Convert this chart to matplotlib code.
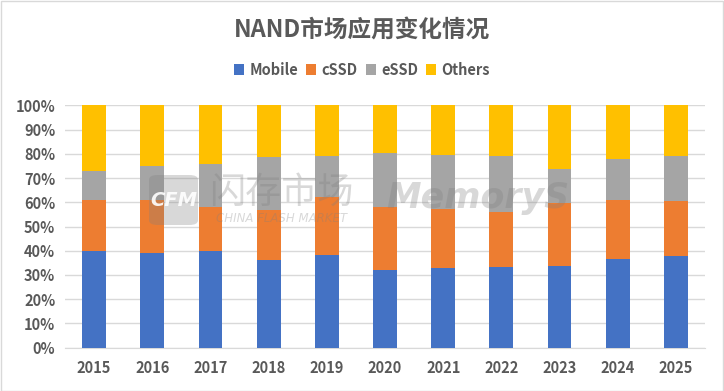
import matplotlib
matplotlib.use("Agg")
import matplotlib.pyplot as plt
import numpy as np
from matplotlib.patches import Rectangle, FancyBboxPatch

plt.rcParams['font.family'] = ['Noto Sans CJK SC', 'DejaVu Sans']

years = ["2015", "2016", "2017", "2018", "2019", "2020", "2021", "2022", "2023", "2024", "2025"]
mobile = [39.8, 39.1, 39.8, 36.2, 38.2, 32.0, 32.9, 33.3, 33.8, 36.6, 38.0]
cssd = [21.1, 21.8, 18.2, 20.7, 24.0, 26.0, 24.3, 22.8, 25.9, 24.5, 22.5]
essd = [12.0, 14.1, 17.8, 21.8, 17.0, 22.3, 22.3, 23.0, 14.0, 16.8, 18.6]
others = [27.1, 25.0, 24.2, 21.3, 20.8, 19.7, 20.5, 20.9, 26.3, 22.1, 20.9]
series_names = ["Mobile", "cSSD", "eSSD", "Others"]
colors = ["#4472C4", "#ED7D31", "#A5A5A5", "#FFC000"]
yticks = [0, 10, 20, 30, 40, 50, 60, 70, 80, 90, 100]
title = "NAND市场应用变化情况"

fig = plt.figure(figsize=(7.24, 3.91), dpi=100)
fig.patch.set_facecolor("white")
fig.add_artist(Rectangle((0.5/724, 0.5/391), 1 - 1.5/724, 1 - 1.5/391, transform=fig.transFigure,
                         fill=False, edgecolor="#D9D9D9", linewidth=1.0))

ax = fig.add_axes([65/724, (391-347.7)/391, 640/724, 242.4/391])
x = np.arange(len(years))
bottom = np.zeros(len(years))
for name, vals, c in zip(series_names, [mobile, cssd, essd, others], colors):
    ax.bar(x, vals, width=0.41, bottom=bottom, color=c, label=name, zorder=3)
    bottom += np.array(vals)

ax.set_xlim(-0.5, len(years) - 0.5)
ax.set_ylim(0, 100)
ax.set_yticks(yticks)
ax.set_yticklabels([f"{v}%" for v in yticks])
ax.set_xticks(x)
ax.set_xticklabels(years)
ax.grid(axis="y", color="#D9D9D9", linewidth=1.0, zorder=0)
for s in ["top", "right", "left"]:
    ax.spines[s].set_visible(False)
ax.spines["bottom"].set_color("#D9D9D9")
ax.tick_params(axis="both", length=0, colors="#595959", labelsize=10.5)
ax.tick_params(axis="x", pad=9)
ax.tick_params(axis="y", pad=7)
for lbl in ax.get_xticklabels() + ax.get_yticklabels():
    lbl.set_fontweight("bold")

# watermark
fig.text(174/724, 1 - 200/391, "CFM", fontsize=14, color="#FFFFFF", alpha=0.9, fontweight="bold",
         style="italic", ha="center", va="center", zorder=10, family="DejaVu Sans")
fig.add_artist(FancyBboxPatch((149/724, 1 - 225/391), 49/724, 50/391, boxstyle="round,pad=0,rounding_size=0.012",
                              transform=fig.transFigure, facecolor="#808080", alpha=0.3, edgecolor="none", zorder=9))
fig.text(281/724, 1 - 193/391, "闪存市场", fontsize=26, color="#808080", alpha=0.3, ha="center", va="center", zorder=10)
fig.text(281/724, 1 - 219/391, "CHINA FLASH MARKET", fontsize=8.5, color="#808080", alpha=0.3, style="italic",
         ha="center", va="center", zorder=10, family="DejaVu Sans")
fig.text(478/724, 1 - 198/391, "MemoryS", fontsize=25, color="#808080", alpha=0.3, style="italic", fontweight="bold",
         ha="center", va="center", zorder=10, family="DejaVu Sans")

fig.text(0.5, 0.925, title, fontsize=17, fontweight="bold", color="#595959", ha="center", va="center")
handles, labels = ax.get_legend_handles_labels()
leg = fig.legend(handles, labels, loc="center", bbox_to_anchor=(0.5, 0.822), ncol=4, frameon=False,
                 handlelength=0.7, handleheight=0.7, handletextpad=0.35, columnspacing=0.55,
                 prop={"size": 10.5, "weight": "bold"})
for t in leg.get_texts():
    t.set_color("#595959")

fig.savefig("out.png", dpi=100, facecolor="white")
